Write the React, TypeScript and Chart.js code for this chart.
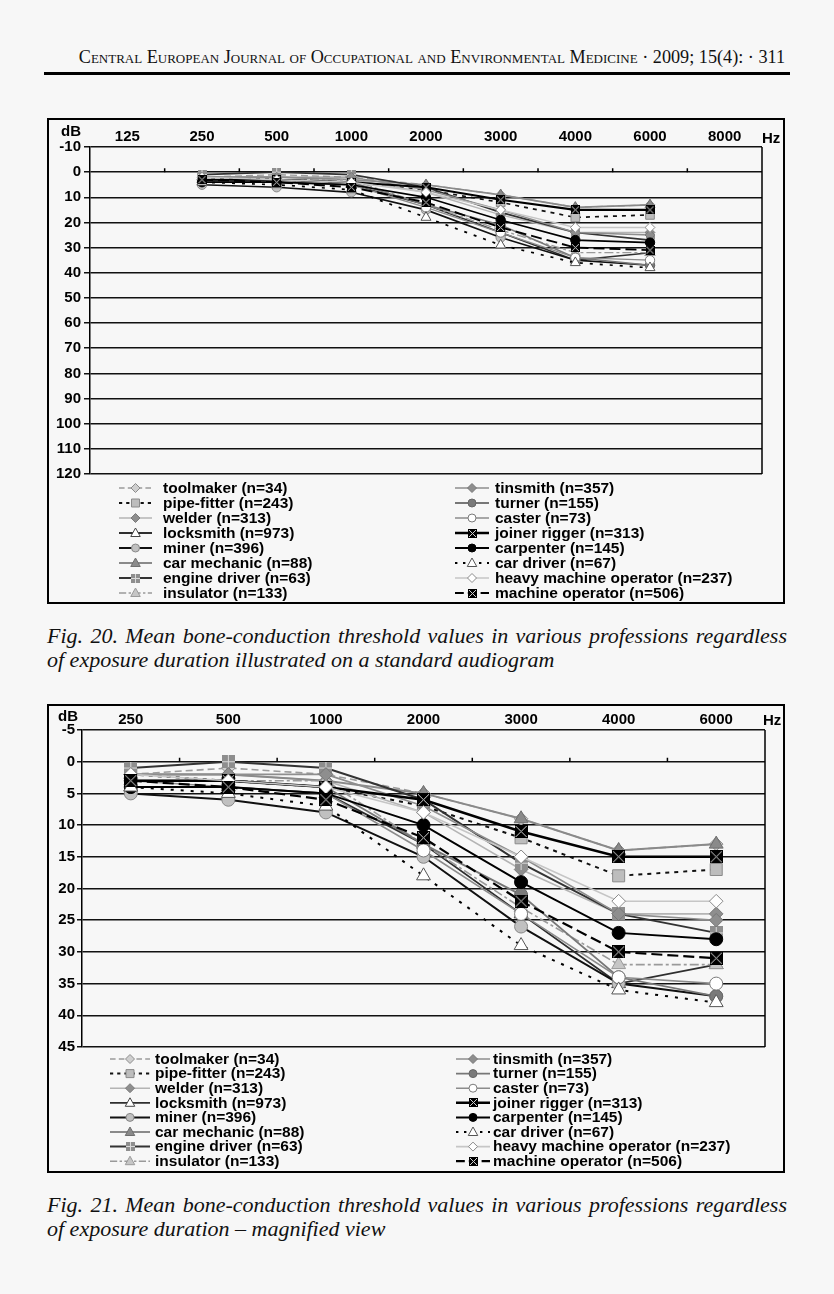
import React, { useEffect, useRef } from 'react';
import { Chart, registerables } from 'chart.js';

Chart.register(...registerables);

// ---------- data ----------
const FREQ_FULL = ['125', '250', '500', '1000', '2000', '3000', '4000', '6000', '8000'];
const FREQ_MAGNIFIED = ['250', '500', '1000', '2000', '3000', '4000', '6000'];
const FREQ_MEASURED = ['250', '500', '1000', '2000', '3000', '4000', '6000'];

const FULL_TICKS = { min: -10, max: 120, step: 10 };
const MAG_TICKS = { min: -5, max: 45, step: 5 };

const SERIES_NAMES = [
  'toolmaker (n=34)',
  'pipe-fitter (n=243)',
  'welder (n=313)',
  'locksmith (n=973)',
  'miner (n=396)',
  'car mechanic (n=88)',
  'engine driver (n=63)',
  'insulator (n=133)',
  'tinsmith (n=357)',
  'turner (n=155)',
  'caster (n=73)',
  'joiner rigger (n=313)',
  'carpenter (n=145)',
  'car driver (n=67)',
  'heavy machine operator (n=237)',
  'machine operator (n=506)',
];

const toolmaker = [2, 1, 2, 5, 9, 14, 13];
const pipeFitter = [2, 3, 4, 7, 12, 18, 17];
const welder = [2, 2, 3, 8, 17, 24, 24];
const locksmith = [4, 4, 5, 13, 24, 35, 32];
const miner = [5, 6, 8, 15, 26, 35, 37];
const carMechanic = [2, 2, 3, 5, 9, 14, 13];
const engineDriver = [1, 0, 1, 6, 16, 24, 27];
const insulator = [3, 3, 3, 13, 23, 32, 32];
const tinsmith = [2, 2, 2, 7, 15, 24, 25];
const turner = [3, 3, 4, 13, 21, 34, 37];
const caster = [3, 4, 5, 14, 24, 34, 35];
const joinerRigger = [3, 3, 4, 6, 11, 15, 15];
const carpenter = [4, 4, 5, 10, 19, 27, 28];
const carDriver = [4, 5, 7, 18, 29, 36, 38];
const heavyMachineOperator = [2, 3, 4, 8, 15, 22, 22];
const machineOperator = [3, 4, 6, 12, 22, 30, 31];

const SERIES_VALUES = [
  toolmaker, pipeFitter, welder, locksmith, miner, carMechanic, engineDriver, insulator,
  tinsmith, turner, caster, joinerRigger, carpenter, carDriver, heavyMachineOperator, machineOperator,
];

// ---------- styles ----------
type Marker = 'rectRot' | 'rect' | 'triangle' | 'circle' | 'xsq' | 'plussq';
type Sty = { line: string; width: number; dash: number[]; marker: Marker; fill: string; stroke: string };

const STYLES: Sty[] = [
  { line: '#9c9c9c', width: 1.6, dash: [7, 4], marker: 'rectRot', fill: '#cfcfcf', stroke: '#8c8c8c' },
  { line: '#111111', width: 2, dash: [4, 5], marker: 'rect', fill: '#bdbdbd', stroke: '#8a8a8a' },
  { line: '#b4b4b4', width: 1.6, dash: [], marker: 'rectRot', fill: '#8e8e8e', stroke: '#7a7a7a' },
  { line: '#2e2e2e', width: 1.8, dash: [], marker: 'triangle', fill: '#ffffff', stroke: '#444444' },
  { line: '#111111', width: 2, dash: [], marker: 'circle', fill: '#c0c0c0', stroke: '#888888' },
  { line: '#8a8a8a', width: 2, dash: [], marker: 'triangle', fill: '#8a8a8a', stroke: '#6e6e6e' },
  { line: '#333333', width: 2, dash: [], marker: 'plussq', fill: '#8e8e8e', stroke: '#d8d8d8' },
  { line: '#9a9a9a', width: 1.6, dash: [9, 3, 3, 3], marker: 'triangle', fill: '#c6c6c6', stroke: '#9a9a9a' },
  { line: '#8e8e8e', width: 1.6, dash: [], marker: 'rectRot', fill: '#8e8e8e', stroke: '#777777' },
  { line: '#777777', width: 1.8, dash: [], marker: 'circle', fill: '#7a7a7a', stroke: '#666666' },
  { line: '#8c8c8c', width: 1.6, dash: [], marker: 'circle', fill: '#ffffff', stroke: '#7a7a7a' },
  { line: '#000000', width: 2.5, dash: [], marker: 'xsq', fill: '#000000', stroke: '#dcdcdc' },
  { line: '#000000', width: 2, dash: [], marker: 'circle', fill: '#000000', stroke: '#000000' },
  { line: '#000000', width: 2, dash: [3, 7], marker: 'triangle', fill: '#ffffff', stroke: '#555555' },
  { line: '#c6c6c6', width: 1.6, dash: [], marker: 'rectRot', fill: '#ffffff', stroke: '#8a8a8a' },
  { line: '#000000', width: 2.2, dash: [11, 5], marker: 'xsq', fill: '#000000', stroke: '#dcdcdc' },
];

const FONT = "'Liberation Sans', Arial, sans-serif";
const BG = '#f7f7f7';
const TICK_SIZE = 15;
const LEGEND_SIZE = 15.5;

function makeSquareImg(size: number, fill: string, lineColor: string, kind: 'x' | 'plus') {
  const c = document.createElement('canvas');
  c.width = size;
  c.height = size;
  const g = c.getContext('2d')!;
  g.fillStyle = fill;
  g.fillRect(0, 0, size, size);
  g.strokeStyle = lineColor;
  g.lineWidth = 1;
  g.beginPath();
  if (kind === 'x') {
    g.moveTo(1, 1);
    g.lineTo(size - 1, size - 1);
    g.moveTo(size - 1, 1);
    g.lineTo(1, size - 1);
  } else {
    g.moveTo(size / 2, 0);
    g.lineTo(size / 2, size);
    g.moveTo(0, size / 2);
    g.lineTo(size, size / 2);
  }
  g.stroke();
  return c;
}

function drawMarker(ctx: CanvasRenderingContext2D, s: Sty, x: number, y: number, k: number, imgs: any) {
  ctx.save();
  ctx.setLineDash([]);
  ctx.lineWidth = 1;
  ctx.fillStyle = s.fill;
  ctx.strokeStyle = s.stroke;
  if (s.marker === 'xsq' || s.marker === 'plussq') {
    const img = s.marker === 'xsq' ? imgs.x : imgs.plus;
    ctx.drawImage(img, Math.round(x - img.width / 2), Math.round(y - img.height / 2));
    ctx.restore();
    return;
  }
  ctx.beginPath();
  if (s.marker === 'circle') {
    ctx.arc(x, y, 4 * k, 0, Math.PI * 2);
  } else if (s.marker === 'rectRot') {
    const r = 4.5 * k;
    ctx.moveTo(x - r, y);
    ctx.lineTo(x, y - r);
    ctx.lineTo(x + r, y);
    ctx.lineTo(x, y + r);
    ctx.closePath();
  } else if (s.marker === 'rect') {
    const r = 4 * k;
    ctx.rect(x - r, y - r, 2 * r, 2 * r);
  } else if (s.marker === 'triangle') {
    const r = 5 * k;
    ctx.moveTo(x, y - r);
    ctx.lineTo(x + r * 0.95, y + r * 0.7);
    ctx.lineTo(x - r * 0.95, y + r * 0.7);
    ctx.closePath();
  }
  ctx.fill();
  ctx.stroke();
  ctx.restore();
}

type Layout = {
  width: number;
  height: number;
  labels: string[];
  ticks: { min: number; max: number; step: number };
  left: number;
  top: number;
  right: number;
  bottom: number;
  yTickLen: number;
  yTickPad: number;
  markerScale: number;
  lineScale: number;
  legendY: number;
  legendDy: number;
  col1: { l0: number; l1: number; tx: number };
  col2: { l0: number; l1: number; tx: number };
  dB: { x: number; y: number };
  hz: { x: number; y: number };
};

function AudioChart({ cfg }: { cfg: Layout }) {
  const ref = useRef<HTMLCanvasElement | null>(null);
  useEffect(() => {
    if (!ref.current) return;
    const k = cfg.markerScale;
    const ptImgs = {
      x: makeSquareImg(Math.round(13 * k), '#000000', '#d0d0d0', 'x'),
      plus: makeSquareImg(Math.round(13 * k), '#8e8e8e', '#dadada', 'plus'),
    };
    const legImgs = {
      x: makeSquareImg(9, '#000000', '#d0d0d0', 'x'),
      plus: makeSquareImg(9, '#8e8e8e', '#dadada', 'plus'),
    };
    const radiusFor = (m: Marker) =>
      m === 'circle' ? 6.5 * k : m === 'triangle' ? 8 * k : m === 'rect' ? 8.5 * k : m === 'rectRot' ? 6.8 * k : 6 * k;

    const datasets = SERIES_NAMES.map((name, i) => {
      const s = STYLES[i];
      const vals = SERIES_VALUES[i];
      let pointStyle: any = s.marker;
      if (s.marker === 'xsq') pointStyle = ptImgs.x;
      if (s.marker === 'plussq') pointStyle = ptImgs.plus;
      return {
        label: name,
        data: FREQ_MEASURED.map((f, j) => ({ x: f, y: vals[j] })),
        borderColor: s.line,
        borderWidth: s.width * cfg.lineScale,
        borderDash: s.dash,
        pointStyle,
        pointRadius: radiusFor(s.marker),
        pointBackgroundColor: s.fill,
        pointBorderColor: s.stroke,
        pointBorderWidth: 1,
        fill: false,
        tension: 0,
        order: -i,
      };
    });

    const framePlugin = {
      id: 'frame',
      beforeDatasetsDraw(chart: any) {
        const { ctx, chartArea, scales } = chart;
        const xs = scales.x;
        const ys = scales.y;
        ctx.save();
        ctx.strokeStyle = '#000';
        ctx.lineWidth = 1.5;
        ctx.setLineDash([]);
        ctx.beginPath();
        ctx.moveTo(chartArea.right, chartArea.top);
        ctx.lineTo(chartArea.right, chartArea.bottom);
        ctx.stroke();
        const y0 = ys.getPixelForValue(0);
        const n = cfg.labels.length;
        ctx.beginPath();
        for (let i = 0; i < n - 1; i++) {
          const xb = (xs.getPixelForValue(i) + xs.getPixelForValue(i + 1)) / 2;
          ctx.moveTo(xb, y0);
          ctx.lineTo(xb, y0 - 4);
        }
        ctx.stroke();
        ctx.restore();
      },
      afterDraw(chart: any) {
        const { ctx } = chart;
        ctx.save();
        ctx.fillStyle = '#000';
        ctx.font = `bold ${TICK_SIZE}px ${FONT}`;
        ctx.textBaseline = 'middle';
        ctx.textAlign = 'right';
        ctx.fillText('dB', cfg.dB.x, cfg.dB.y);
        ctx.textAlign = 'left';
        ctx.fillText('Hz', cfg.hz.x, cfg.hz.y);
        SERIES_NAMES.forEach((name, i) => {
          const s = STYLES[i];
          const col = i < 8 ? cfg.col1 : cfg.col2;
          const y = cfg.legendY + (i % 8) * cfg.legendDy;
          ctx.save();
          ctx.strokeStyle = s.line;
          ctx.lineWidth = s.width;
          ctx.setLineDash(s.dash.map((d) => d * 0.8));
          ctx.beginPath();
          ctx.moveTo(col.l0, y);
          ctx.lineTo(col.l1, y);
          ctx.stroke();
          ctx.restore();
          drawMarker(ctx, s, (col.l0 + col.l1) / 2, y, 1, legImgs);
          ctx.fillStyle = '#000';
          ctx.font = `bold ${LEGEND_SIZE}px ${FONT}`;
          ctx.textAlign = 'left';
          ctx.textBaseline = 'middle';
          ctx.fillText(name, col.tx, y + 0.5);
        });
        ctx.restore();
      },
    };

    const chart = new Chart(ref.current, {
      type: 'line',
      data: { labels: cfg.labels, datasets: datasets as any },
      options: {
        animation: false,
        responsive: false,
        events: [],
        layout: { padding: { left: 0, top: 0, right: cfg.right, bottom: cfg.bottom } },
        plugins: { legend: { display: false }, tooltip: { enabled: false } },
        scales: {
          x: {
            type: 'category',
            position: 'top',
            offset: true,
            grid: { display: false, drawTicks: false },
            border: { display: false },
            ticks: { color: '#000', font: { family: FONT, size: TICK_SIZE, weight: 'bold' }, padding: 1, maxRotation: 0 },
            afterFit: (s: any) => {
              s.height = cfg.top;
            },
          },
          y: {
            type: 'linear',
            reverse: true,
            min: cfg.ticks.min,
            max: cfg.ticks.max,
            grid: { color: '#111', lineWidth: 1.5, tickLength: cfg.yTickLen, drawTicks: true },
            border: { display: true, color: '#000', width: 1.5 },
            ticks: {
              stepSize: cfg.ticks.step,
              color: '#000',
              padding: cfg.yTickPad,
              font: { family: FONT, size: TICK_SIZE, weight: 'bold' },
            },
            afterFit: (s: any) => {
              s.width = cfg.left;
            },
          },
        },
      } as any,
      plugins: [framePlugin],
    });
    return () => chart.destroy();
  }, [cfg]);
  return <canvas ref={ref} width={cfg.width} height={cfg.height} style={{ display: 'block' }} />;
}

const CHART1: Layout = {
  width: 734,
  height: 482,
  labels: FREQ_FULL,
  ticks: FULL_TICKS,
  left: 41,
  top: 27,
  right: 21,
  bottom: 128,
  yTickLen: 6,
  yTickPad: 3,
  markerScale: 0.72,
  lineScale: 0.85,
  legendY: 368,
  legendDy: 15,
  col1: { l0: 70, l1: 103, tx: 114 },
  col2: { l0: 406, l1: 440, tx: 446 },
  dB: { x: 32, y: 12 },
  hz: { x: 713, y: 19 },
};

const CHART2: Layout = {
  width: 734,
  height: 465,
  labels: FREQ_MAGNIFIED,
  ticks: MAG_TICKS,
  left: 33,
  top: 24,
  right: 18,
  bottom: 124,
  yTickLen: 5,
  yTickPad: 2,
  markerScale: 1,
  lineScale: 1,
  legendY: 353,
  legendDy: 14.6,
  col1: { l0: 61, l1: 101, tx: 106 },
  col2: { l0: 407, l1: 441, tx: 444 },
  dB: { x: 29, y: 11 },
  hz: { x: 714, y: 15 },
};

const serif = "'Liberation Serif', 'Times New Roman', serif";

export default function App() {
  const caption: React.CSSProperties = {
    position: 'absolute',
    left: 47,
    width: 740,
    fontFamily: serif,
    fontStyle: 'italic',
    fontSize: 22,
    lineHeight: '24px',
    color: '#111',
  };
  const first: React.CSSProperties = { ...caption, textAlign: 'justify', textAlignLast: 'justify' as any };
  const box: React.CSSProperties = {
    position: 'absolute',
    left: 47,
    width: 738,
    border: '2px solid #000',
    boxSizing: 'border-box',
    background: BG,
  };
  return (
    <div style={{ position: 'absolute', left: 0, top: 0, width: 834, height: 1294, background: BG }}>
      <div
        style={{
          position: 'absolute',
          right: 49,
          top: 46,
          fontFamily: serif,
          fontVariant: 'small-caps',
          fontSize: 18.2,
          lineHeight: '22px',
          whiteSpace: 'nowrap',
          color: '#111',
        }}
      >
        Central European Journal of Occupational and Environmental Medicine · 2009; 15(4): · 311
      </div>
      <div style={{ position: 'absolute', left: 44, top: 72, width: 746, height: 3, background: '#000' }} />

      <div style={{ ...box, top: 118, height: 486 }}>
        <AudioChart cfg={CHART1} />
      </div>
      <div style={{ ...first, top: 624 }}>
        Fig. 20. Mean bone-conduction threshold values in various professions regardless
      </div>
      <div style={{ ...caption, top: 648 }}>of exposure duration illustrated on a standard audiogram</div>

      <div style={{ ...box, top: 704, height: 469 }}>
        <AudioChart cfg={CHART2} />
      </div>
      <div style={{ ...first, top: 1193 }}>
        Fig. 21. Mean bone-conduction threshold values in various professions regardless
      </div>
      <div style={{ ...caption, top: 1217 }}>of exposure duration – magnified view</div>
    </div>
  );
}
